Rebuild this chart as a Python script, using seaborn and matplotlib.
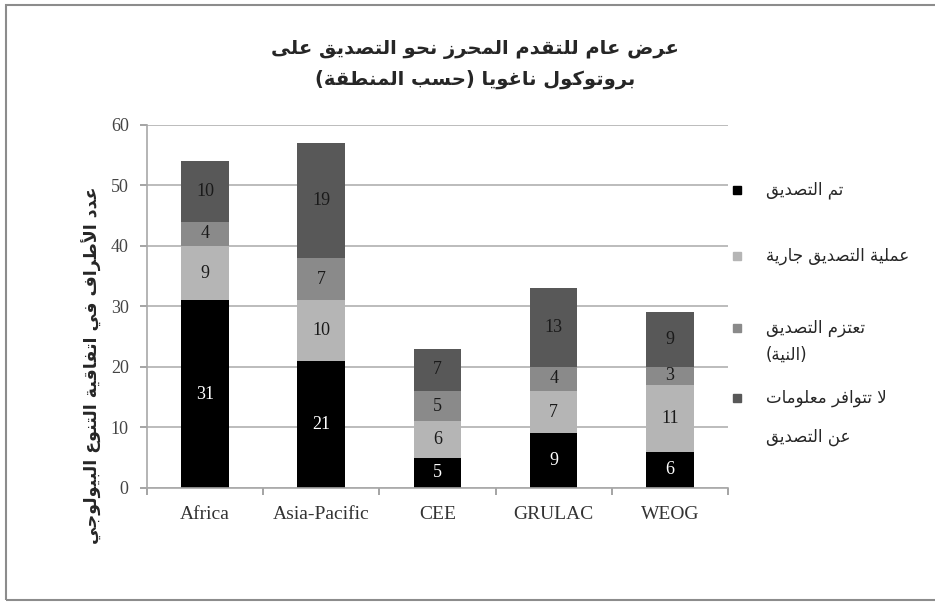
import numpy as np
import pandas as pd
import seaborn as sns
import matplotlib
matplotlib.use("Agg")
import matplotlib.pyplot as plt
from matplotlib.patches import Rectangle

# Dados (número de partes por região)
regioes = ["Africa", "Asia-Pacific", "CEE", "GRULAC", "WEOG"]
ratificado = [31, 21, 5, 9, 6]
em_curso = [9, 10, 6, 7, 11]
intencao = [4, 7, 5, 4, 3]
sem_info = [10, 19, 7, 13, 9]

titulo = ["عرض عام للتقدم المحرز نحو التصديق على", "بروتوكول ناغويا (حسب المنطقة)"]
rotulo_y = "عدد الأطراف في اتفاقية التنوع البيولوجي"
legendas = [["تم التصديق"], ["عملية التصديق جارية"], ["تعتزم التصديق", "(النية)"],
            ["لا تتوافر معلومات", "عن التصديق"]]
cores = ["#000000", "#b5b5b5", "#8a8a8a", "#585858"]

# --- formas de apresentação árabe (matplotlib não faz shaping nem bidi) ---
DUAL = set("ئبتثجحخسشصضطظعغفقكلمنهي")
FORMS = {}
code = 0xFE80
for ch in "ءآأؤإئابةتثجحخدذرزسشصضطظعغفقكلمنهوىي":
    FORMS[ch] = code
    code += 1 if ch == "ء" else (4 if ch in DUAL else 2)
LAM_ALEF = {"آ": 0xFEF5, "أ": 0xFEF7, "إ": 0xFEF9, "ا": 0xFEFB}


def ar(text):
    units = []
    i = 0
    while i < len(text):
        c = text[i]
        if c == "ل" and i + 1 < len(text) and text[i + 1] in LAM_ALEF:
            units.append(("lam-alef", LAM_ALEF[text[i + 1]]))
            i += 2
            continue
        units.append((c, FORMS.get(c)))
        i += 1
    out = []
    for k, (c, base) in enumerate(units):
        if base is None:
            out.append(c)
            continue
        prev = units[k - 1] if k > 0 else None
        nxt = units[k + 1] if k + 1 < len(units) else None
        jp = prev is not None and prev[0] in DUAL
        jn = c in DUAL and nxt is not None and nxt[1] is not None
        if c == "ء":
            out.append(chr(base))
        elif c == "lam-alef":
            out.append(chr(base + (1 if jp else 0)))
        else:
            form = (3 if jp else 2) if jn else (1 if jp else 0)
            out.append(chr(base + form))
    s = "".join(reversed(out))
    return s.translate(str.maketrans("()", ")("))


sns.set_theme(style="white")
plt.rcParams["font.family"] = ["DejaVu Sans"]

fig = plt.figure(figsize=(9.35, 6.03), dpi=100)
ax = fig.add_axes([0.157, 0.191, 0.6216, 0.602])

df = pd.DataFrame({"regiao": regioes, "r": ratificado, "e": em_curso,
                   "i": intencao, "s": sem_info})
camadas = ["r", "e", "i", "s"]
acum = df[camadas].cumsum(axis=1)

# barras empilhadas: desenha os totais acumulados do maior para o menor
for col, cor in zip(camadas[::-1], cores[::-1]):
    sns.barplot(data=acum.assign(regiao=df["regiao"]), x="regiao", y=col,
                color=cor, saturation=1, width=0.41, linewidth=0, ax=ax)

# rótulos dos valores
for j in range(len(regioes)):
    base = 0
    for k, col in enumerate(camadas):
        v = df[col][j]
        ax.text(j, base + v / 2, str(v), ha="center", va="center",
                fontsize=13, family="Liberation Serif",
                color="white" if k == 0 else "#1a1a1a")
        base += v

ax.set_ylim(0, 60)
ax.set_xlim(-0.5, len(regioes) - 0.5)
ax.set_yticks(range(0, 61, 10))
ax.set_xticks(np.arange(-0.5, len(regioes)), labels=[""] * (len(regioes) + 1))
ax.set_xticks(range(len(regioes)), labels=regioes, minor=True)
ax.tick_params(axis="x", which="major", length=5, color="#999999", direction="out", bottom=True)
ax.tick_params(axis="x", which="minor", length=0, pad=13)
ax.tick_params(axis="y", length=5, color="#999999", direction="out", left=True, pad=8)
for lab in ax.get_xticklabels(minor=True):
    lab.set_family("Liberation Serif")
    lab.set_fontsize(14)
    lab.set_color("#333333")
for lab in ax.get_yticklabels():
    lab.set_family("Liberation Serif")
    lab.set_fontsize(13)
    lab.set_color("#444444")
ax.set_xlabel("")
ax.set_ylabel("")
ax.yaxis.grid(True, color="#b0b0b0", linewidth=1.2)
ax.set_axisbelow(True)
for lado in ["top", "right"]:
    ax.spines[lado].set_visible(False)
for lado in ["left", "bottom"]:
    ax.spines[lado].set_color("#a8a8a8")
    ax.spines[lado].set_linewidth(1.2)

# título e rótulo do eixo y
fig.text(0.508, 0.893, "\n".join(ar(t) for t in titulo), ha="center", va="center",
         fontsize=14, fontweight="bold", linespacing=1.75)
fig.text(0.098, 0.395, ar(rotulo_y), rotation=90, ha="center", va="center",
         fontsize=12.5, fontweight="bold")

# legenda manual (marcador alinhado com a primeira linha)
pos_y = [[0.685], [0.575], [0.456, 0.411], [0.340, 0.275]]
for linhas, ys, cor in zip(legendas, pos_y, cores):
    fig.patches.append(Rectangle((0.784, ys[0] - 0.0065), 0.0085, 0.013,
                                 transform=fig.transFigure, color=cor))
    for t, y in zip(linhas, ys):
        fig.text(0.819, y, ar(t), ha="left", va="center", fontsize=12)

# moldura externa
fig.patches.append(Rectangle((0.006, 0.005), 1.1, 0.987, transform=fig.transFigure,
                             fill=False, edgecolor="#8c8c8c", linewidth=1.5))

fig.savefig("out.png", dpi=100)
